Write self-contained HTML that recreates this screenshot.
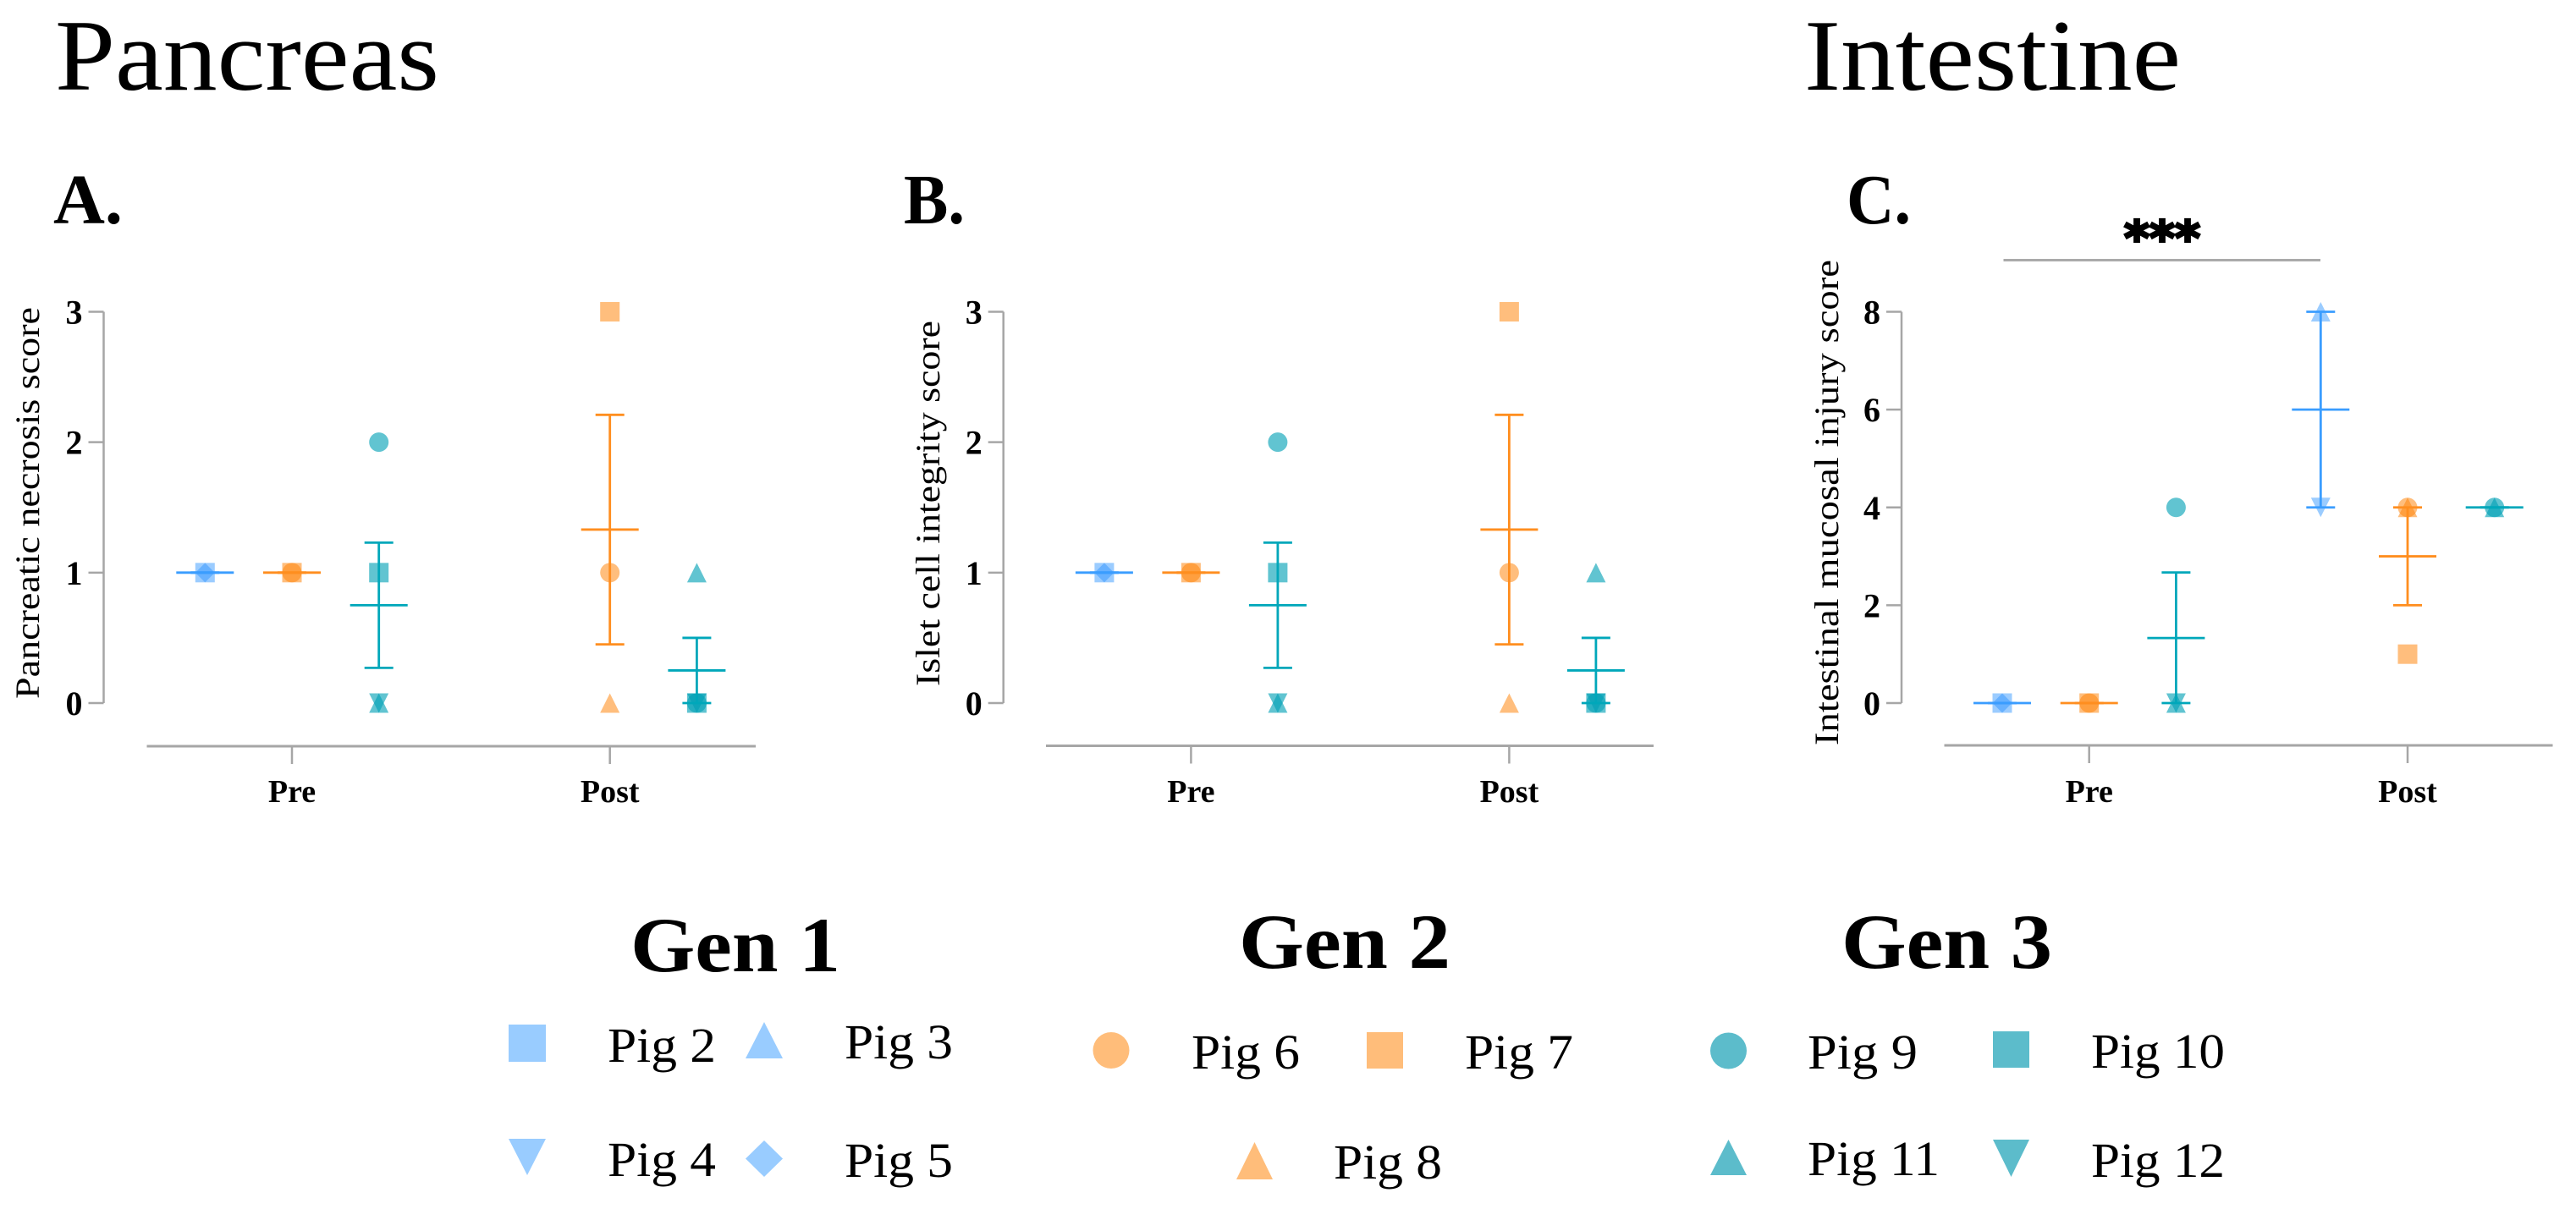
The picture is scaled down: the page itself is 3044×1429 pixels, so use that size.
<!DOCTYPE html>
<html lang="en">
<head>
<meta charset="utf-8">
<title>Pancreas and Intestine scores</title>
<style>
html,body{margin:0;padding:0;background:#fff;}
svg{display:block;font-family:"Liberation Serif",serif;}
</style>
</head>
<body>
<svg id="figure" xmlns="http://www.w3.org/2000/svg" width="3044" height="1429" viewBox="0 0 3044 1429">
<rect x="0" y="0" width="3044" height="1429" fill="#fff"/>
<text x="65" y="106" font-size="120" textLength="454" lengthAdjust="spacingAndGlyphs">Pancreas</text>
<text x="2132" y="106" font-size="120" textLength="445" lengthAdjust="spacingAndGlyphs">Intestine</text>
<text x="63" y="264" font-size="84" font-weight="bold" textLength="82" lengthAdjust="spacingAndGlyphs">A.</text>
<text x="1068" y="264" font-size="84" font-weight="bold" textLength="72" lengthAdjust="spacingAndGlyphs">B.</text>
<text x="2182" y="264" font-size="84" font-weight="bold" textLength="76" lengthAdjust="spacingAndGlyphs">C.</text>
<g id="charts"></g>
<text x="2510" y="301" font-size="56" font-weight="bold" stroke="#000" stroke-width="3" style="font-family:'DejaVu Sans',sans-serif" textLength="90" lengthAdjust="spacingAndGlyphs">***</text>
<line x1="2367.5" y1="307.5" x2="2742" y2="307.5" stroke="#aaaaaa" stroke-width="3"/>

<g>
<text x="745" y="1148" font-size="92" font-weight="bold" textLength="248" lengthAdjust="spacingAndGlyphs">Gen 1</text>
<text x="1464" y="1144" font-size="92" font-weight="bold" textLength="250" lengthAdjust="spacingAndGlyphs">Gen 2</text>
<text x="2176" y="1144" font-size="92" font-weight="bold" textLength="249" lengthAdjust="spacingAndGlyphs">Gen 3</text>

<g>
<rect x="601" y="1211" width="44" height="44" fill="#99ccff"/>
<text x="718" y="1255" font-size="58" textLength="128" lengthAdjust="spacingAndGlyphs">Pig 2</text>
</g>
<g>
<polygon points="903,1208 925,1251 881,1251" fill="#99ccff"/>
<text x="998" y="1251" font-size="58" textLength="128" lengthAdjust="spacingAndGlyphs">Pig 3</text>
</g>
<g>
<polygon points="601,1346 645,1346 623,1389" fill="#99ccff"/>
<text x="718" y="1390" font-size="58" textLength="128" lengthAdjust="spacingAndGlyphs">Pig 4</text>
</g>
<g>
<polygon points="903,1348 925,1369.5 903,1391 881,1369.5" fill="#99ccff"/>
<text x="998" y="1391" font-size="58" textLength="128" lengthAdjust="spacingAndGlyphs">Pig 5</text>
</g>
<g>
<circle cx="1313" cy="1241.5" r="21.5" fill="#ffbd7a"/>
<text x="1408" y="1263" font-size="58" textLength="128" lengthAdjust="spacingAndGlyphs">Pig 6</text>
</g>
<g>
<rect x="1615" y="1220" width="43" height="43" fill="#ffbd7a"/>
<text x="1731" y="1263" font-size="58" textLength="128" lengthAdjust="spacingAndGlyphs">Pig 7</text>
</g>
<g>
<polygon points="1482.5,1350 1504,1394 1461,1394" fill="#ffbd7a"/>
<text x="1576" y="1393" font-size="58" textLength="128" lengthAdjust="spacingAndGlyphs">Pig 8</text>
</g>
<g>
<circle cx="2042.5" cy="1242" r="21.5" fill="#5cbccb"/>
<text x="2136" y="1263" font-size="58" textLength="130" lengthAdjust="spacingAndGlyphs">Pig 9</text>
</g>
<g>
<rect x="2355" y="1219" width="43" height="43" fill="#5cbccb"/>
<text x="2471" y="1262" font-size="58" textLength="158" lengthAdjust="spacingAndGlyphs">Pig 10</text>
</g>
<g>
<polygon points="2042.5,1347 2064,1389 2021,1389" fill="#5cbccb"/>
<text x="2136" y="1389" font-size="58" textLength="156" lengthAdjust="spacingAndGlyphs">Pig 11</text>
</g>
<g>
<polygon points="2355,1347 2398,1347 2376.5,1391" fill="#5cbccb"/>
<text x="2471" y="1391" font-size="58" textLength="158" lengthAdjust="spacingAndGlyphs">Pig 12</text>
</g>
</g>
</svg>

<script>
// Shared categories
const timepoints = ['Pre', 'Post'];
const generations = ['Gen 1', 'Gen 2', 'Gen 3'];
const pigNames = ['Pig 2', 'Pig 3', 'Pig 4', 'Pig 5', 'Pig 6', 'Pig 7', 'Pig 8', 'Pig 9', 'Pig 10', 'Pig 11', 'Pig 12'];
const pigGeneration = [0, 0, 0, 0, 1, 1, 1, 2, 2, 2, 2];
const pigShapes = ['square', 'up', 'down', 'diamond', 'circle', 'square', 'up', 'circle', 'square', 'up', 'down'];

// Panel A: pancreatic necrosis (one value per pig, null = no point drawn)
const necrosisTicks = [0, 1, 2, 3];
const necrosisPre = [1, null, null, 1, 1, 1, null, 2, 1, 0, 0];
const necrosisPost = [null, null, null, null, 1, 3, 0, 0, 0, 1, 0];
const necrosisMeanPre = [1, 1, 0.75];
const necrosisLowPre = [1, 1, 0.27];
const necrosisHighPre = [1, 1, 1.23];
const necrosisMeanPost = [null, 1.33, 0.25];
const necrosisLowPost = [null, 0.45, 0];
const necrosisHighPost = [null, 2.21, 0.5];

// Panel B: islet cell integrity
const isletTicks = [0, 1, 2, 3];
const isletPre = [1, null, null, 1, 1, 1, null, 2, 1, 0, 0];
const isletPost = [null, null, null, null, 1, 3, 0, 0, 0, 1, 0];
const isletMeanPre = [1, 1, 0.75];
const isletLowPre = [1, 1, 0.27];
const isletHighPre = [1, 1, 1.23];
const isletMeanPost = [null, 1.33, 0.25];
const isletLowPost = [null, 0.45, 0];
const isletHighPost = [null, 2.21, 0.5];

// Panel C: intestinal mucosal injury
const injuryTicks = [0, 2, 4, 6, 8];
const injuryPre = [0, null, null, 0, 0, 0, null, 4, null, 0, 0];
const injuryPost = [null, 8, 4, null, 4, 1, 4, 4, null, 4, null];
const injuryMeanPre = [0, 0, 1.33];
const injuryLowPre = [0, 0, 0];
const injuryHighPre = [0, 0, 2.67];
const injuryMeanPost = [6, 3, 4];
const injuryLowPost = [4, 2, 4];
const injuryHighPost = [8, 4, 4];

const SVG_NS = 'http://www.w3.org/2000/svg';
const root = document.getElementById('charts');
const markerFill = ['#2e95ff', '#ff8205', '#00a0b4'];
const markerAlpha = [0.48, 0.52, 0.62];
const lineColor = ['#3a9dff', '#ff8e1f', '#00a7ba'];
const AXIS_COLOR = '#a6a6a6';

function make(parent, tag, attrs) {
  const el = document.createElementNS(SVG_NS, tag);
  Object.keys(attrs).forEach(function (k) { el.setAttribute(k, attrs[k]); });
  parent.appendChild(el);
  return el;
}

function drawPanel(cfg) {
  const g = make(root, 'g', {});
  
  

  const maxTick = Math.max.apply(null, cfg.ticks);
  const yOf = function (v) { return cfg.yZero + (cfg.yTop - cfg.yZero) * v / maxTick; };
  const xOf = function (t, gen) { return cfg.centers[t] + (gen - 1) * cfg.step; };

  // y axis
  const yAxis = make(g, 'line', { x1: cfg.axisX, y1: yOf(maxTick), x2: cfg.axisX, y2: yOf(0), stroke: AXIS_COLOR, 'stroke-width': 2.5 });
  
  
  cfg.ticks.forEach(function (t) {
    const tick = make(g, 'line', { x1: cfg.axisX - 18, y1: yOf(t), x2: cfg.axisX, y2: yOf(t), stroke: AXIS_COLOR, 'stroke-width': 2.5 });
    
    
    const label = make(g, 'text', { x: cfg.axisX - 25, y: yOf(t) + 14, 'font-size': 40, 'font-weight': 'bold', 'text-anchor': 'end' });
    label.textContent = String(t);
    
    
  });

  // y title
  const title = make(g, 'text', { transform: 'translate(' + cfg.titleX + ' ' + cfg.titleBottom + ') rotate(-90)', 'font-size': cfg.titleSize, textLength: cfg.titleLength, lengthAdjust: 'spacingAndGlyphs' });
  title.textContent = cfg.title;
  
  

  // x axis
  const xAxis = make(g, 'line', { x1: cfg.xStart, y1: cfg.xAxisY, x2: cfg.xEnd, y2: cfg.xAxisY, stroke: AXIS_COLOR, 'stroke-width': 3 });
  
  
  timepoints.forEach(function (name, t) {
    const tick = make(g, 'line', { x1: cfg.centers[t], y1: cfg.xAxisY, x2: cfg.centers[t], y2: cfg.xAxisY + 21, stroke: AXIS_COLOR, 'stroke-width': 2.5 });
    
    
    const label = make(g, 'text', { x: cfg.centers[t], y: 948, 'font-size': 38, 'font-weight': 'bold', 'text-anchor': 'middle' });
    label.textContent = name;
    
    
  });

  // points
  [cfg.pre, cfg.post].forEach(function (vals, t) {
    vals.forEach(function (v, i) {
      if (v === null) return;
      const gen = pigGeneration[i];
      const el = drawMarker(g, pigShapes[i], xOf(t, gen), yOf(v), gen);
      
      
    });
  });

  // mean and error bars
  [[cfg.meanPre, cfg.lowPre, cfg.highPre], [cfg.meanPost, cfg.lowPost, cfg.highPost]].forEach(function (set, t) {
    generations.forEach(function (name, gen) {
      const mean = set[0][gen];
      if (mean === null) return;
      const x = xOf(t, gen);
      const c = lineColor[gen];
      const stem = make(g, 'line', { x1: x, y1: yOf(set[2][gen]), x2: x, y2: yOf(set[1][gen]), stroke: c, 'stroke-width': 2.8 });
      
      
      const capHigh = make(g, 'line', { x1: x - 17, y1: yOf(set[2][gen]), x2: x + 17, y2: yOf(set[2][gen]), stroke: c, 'stroke-width': 2.8 });
      
      
      const capLow = make(g, 'line', { x1: x - 17, y1: yOf(set[1][gen]), x2: x + 17, y2: yOf(set[1][gen]), stroke: c, 'stroke-width': 2.8 });
      
      
      const meanLine = make(g, 'line', { x1: x - 34, y1: yOf(mean), x2: x + 34, y2: yOf(mean), stroke: c, 'stroke-width': 2.8 });
      
      
    });
  });
}

function drawMarker(parent, shape, x, y, gen) {
  const r = 11.5;
  const style = { fill: markerFill[gen], 'fill-opacity': markerAlpha[gen] };
  let el;
  if (shape === 'circle') {
    el = make(parent, 'circle', Object.assign({ cx: x, cy: y, r: r }, style));
  } else if (shape === 'square') {
    el = make(parent, 'rect', Object.assign({ x: x - r, y: y - r, width: 2 * r, height: 2 * r }, style));
  } else {
    let pts;
    if (shape === 'up') pts = [[x, y - r], [x + r, y + r], [x - r, y + r]];
    else if (shape === 'down') pts = [[x - r, y - r], [x + r, y - r], [x, y + r]];
    else pts = [[x, y - r], [x + r, y], [x, y + r], [x - r, y]];
    el = make(parent, 'polygon', Object.assign({ points: pts.map(function (p) { return p.join(','); }).join(' ') }, style));
  }
  return el;
}

drawPanel({
  ticks: necrosisTicks, pre: necrosisPre, post: necrosisPost,
  meanPre: necrosisMeanPre, lowPre: necrosisLowPre, highPre: necrosisHighPre,
  meanPost: necrosisMeanPost, lowPost: necrosisLowPost, highPost: necrosisHighPost,
  yTop: 368.5, yZero: 831, axisX: 122.5, xAxisY: 882, xStart: 173.5, xEnd: 893,
  centers: [345, 720.7], step: 102.7,
  title: 'Pancreatic necrosis score', titleX: 46, titleBottom: 826, titleLength: 463, titleSize: 40
});

drawPanel({
  ticks: isletTicks, pre: isletPre, post: isletPost,
  meanPre: isletMeanPre, lowPre: isletLowPre, highPre: isletHighPre,
  meanPost: isletMeanPost, lowPost: isletLowPost, highPost: isletHighPost,
  yTop: 368.5, yZero: 831, axisX: 1185.7, xAxisY: 881.5, xStart: 1236, xEnd: 1954,
  centers: [1407.4, 1783.4], step: 102.5,
  title: 'Islet cell integrity score', titleX: 1110, titleBottom: 811, titleLength: 432, titleSize: 40
});

drawPanel({
  ticks: injuryTicks, pre: injuryPre, post: injuryPost,
  meanPre: injuryMeanPre, lowPre: injuryLowPre, highPre: injuryHighPre,
  meanPost: injuryMeanPost, lowPost: injuryLowPost, highPost: injuryHighPost,
  yTop: 368.5, yZero: 831, axisX: 2247, xAxisY: 881, xStart: 2297.5, xEnd: 3016.5,
  centers: [2468.7, 2845], step: 102.7,
  title: 'Intestinal mucosal injury score', titleX: 2172, titleBottom: 881, titleLength: 574, titleSize: 40
});
</script>
</body>
</html>
